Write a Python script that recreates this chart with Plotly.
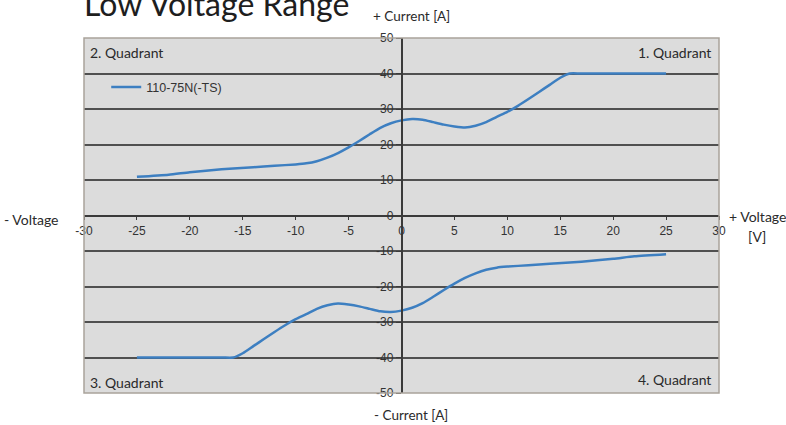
import plotly.graph_objects as go

# Data
upper_v = [-25, -22, -20, -17, -14, -12, -10, -9, -8, -7, -6, -5, -4, -3, -2, -1, 0,
           1, 2, 3, 4, 5, 6, 7, 8, 9, 10, 11, 12, 13, 14, 15, 15.9, 17, 25]
upper_i = [10.9, 11.5, 12.2, 13.0, 13.6, 14.0, 14.4, 14.7, 15.3, 16.3, 17.6, 19.2, 21.0, 22.9, 24.7, 26.0, 26.8,
           27.2, 27.0, 26.3, 25.6, 25.1, 24.8, 25.3, 26.3, 27.8, 29.2, 30.9, 32.8, 34.8, 36.8, 38.8, 40.0, 40.0, 40.0]

lower_v = [-25, -17, -15.9, -15, -14, -13, -12, -11, -10, -9, -8, -7, -6, -5, -4, -3, -2, -1, 0,
           1, 2, 3, 4, 5, 6, 7, 8, 9, 10, 12, 14, 17, 20, 22, 25]
lower_i = [-40.0, -40.0, -40.0, -38.8, -36.8, -34.8, -32.8, -30.9, -29.2, -27.8, -26.3, -25.3, -24.8, -25.1, -25.6, -26.3, -27.0, -27.2, -26.8,
           -26.0, -24.7, -22.9, -21.0, -19.2, -17.6, -16.3, -15.3, -14.7, -14.4, -14.0, -13.6, -13.0, -12.2, -11.5, -10.9]

x_ticks = [-30, -25, -20, -15, -10, -5, 0, 5, 10, 15, 20, 25, 30]
x_tick_text = ["-30", "-25", "-20", "-15", "-10", "-5", "0", "5", "10", "15", "20", "25", "30"]
y_ticks = [-50, -40, -30, -20, -10, 0, 10, 20, 30, 40, 50]
y_tick_text = ["-50", "-40", "-30", "-20", "-10", "0", "10", "20", "30", "40", "50"]

series_name = "110-75N(-TS)"
line_color = "#3d7fc1"

fig = go.Figure()
fig.add_trace(go.Scatter(x=upper_v, y=upper_i, mode="lines", name=series_name,
                         line=dict(color=line_color, width=2.5, shape="spline", smoothing=0.6)))
fig.add_trace(go.Scatter(x=lower_v, y=lower_i, mode="lines", name=series_name, showlegend=False,
                         line=dict(color=line_color, width=2.5, shape="spline", smoothing=0.6)))

tick_font = dict(family="Liberation Sans, Arial, sans-serif", size=12, color="#333333")
cal = "Lato, Carlito, Calibri, sans-serif"

fig.update_layout(
    width=786, height=425,
    margin=dict(l=84, r=67, t=38, b=32),
    paper_bgcolor="white",
    plot_bgcolor="#dcdcdc",
    showlegend=True,
    legend=dict(x=0.035, y=0.861, xanchor="left", yanchor="middle",
                bgcolor="rgba(0,0,0,0)",
                font=dict(family="Liberation Sans, Arial, sans-serif", size=12.5, color="#333")),
    xaxis=dict(range=[-30, 30], anchor="free", position=0.5, showgrid=False, zeroline=False,
               showline=True, linecolor="#3a3a3a", linewidth=1.5,
               tickvals=x_ticks, ticktext=x_tick_text, ticks="outside", ticklen=4,
               tickcolor="#3a3a3a", tickfont=tick_font),
    yaxis=dict(range=[-50, 50], anchor="free", position=0.5, side="left",
               showgrid=True, gridcolor="#505050", gridwidth=1.5, zeroline=False,
               showline=True, linecolor="#3a3a3a", linewidth=1.5,
               tickvals=y_ticks, ticktext=y_tick_text, ticks="outside", ticklen=5,
               tickcolor="#3a3a3a", tickfont=tick_font),
    shapes=[dict(type="rect", xref="paper", yref="paper", x0=0, x1=1, y0=0, y1=1,
                 line=dict(color="#a9a39b", width=1.5), layer="above")],
)

ann_font = dict(family=cal, size=14, color="#2a2a2a")
annotations = [
    dict(text="Low Voltage Range", x=-0.003, y=1.097, xanchor="left", yanchor="middle",
         font=dict(family=cal, size=32, color="#1e1e1e")),
    dict(text="2. Quadrant", x=0.006, y=0.96, xanchor="left", yanchor="middle", font=ann_font),
    dict(text="1. Quadrant", x=0.99, y=0.96, xanchor="right", yanchor="middle", font=ann_font),
    dict(text="3. Quadrant", x=0.006, y=0.03, xanchor="left", yanchor="middle", font=ann_font),
    dict(text="4. Quadrant", x=0.99, y=0.039, xanchor="right", yanchor="middle", font=ann_font),
    dict(text="+ Current [A]", x=0.515, y=1.061, xanchor="center", yanchor="middle",
         font=dict(family=cal, size=13.5, color="#2a2a2a")),
    dict(text="- Current [A]", x=0.515, y=-0.062, xanchor="center", yanchor="middle",
         font=dict(family=cal, size=13.5, color="#2a2a2a")),
    dict(text="- Voltage", x=-0.083, y=0.49, xanchor="center", yanchor="middle",
         font=dict(family=cal, size=14, color="#2a2a2a")),
    dict(text="+ Voltage", x=1.06, y=0.496, xanchor="center", yanchor="middle",
         font=dict(family=cal, size=14, color="#2a2a2a")),
    dict(text="[V]", x=1.06, y=0.44, xanchor="center", yanchor="middle",
         font=dict(family=cal, size=14, color="#2a2a2a")),
]
for a in annotations:
    a.update(xref="paper", yref="paper", showarrow=False)
fig.update_layout(annotations=annotations)

fig.write_html("out.html", config={"displayModeBar": False},
               post_script="document.body.style.margin='0';document.body.style.overflow='hidden';")
